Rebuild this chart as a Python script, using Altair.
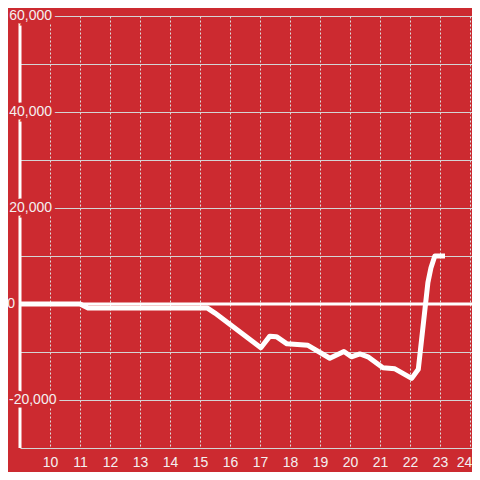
import altair as alt
import pandas as pd

# line series (hour of day -> value)
hours = [9, 11.0, 11.27, 15.25, 15.5, 17.03, 17.33, 17.55, 17.9, 18.6, 19.33, 19.8,
         20.05, 20.33, 20.6, 21.1, 21.5, 22.06, 22.28, 22.6, 22.7, 22.83, 23.17]
values = [0, 0, -850, -850, -1900, -9100, -6700, -6800, -8300, -8600, -11300, -9900,
          -11000, -10400, -11000, -13300, -13500, -15500, -13600, 4500, 7500, 10000, 10000]

# axes
pos_label_values = [20000, 40000, 60000]
pos_label_texts = ["20,000", "40,000", "60,000"]
zero_label_values = [0]
zero_label_texts = ["0"]
neg_label_values = [-20000]
neg_label_texts = ["-20,000"]
y_grid = [-30000, -20000, -10000, 10000, 20000, 30000, 40000, 50000, 60000]
x_ticks = list(range(10, 25))

BG = "#CC2A30"
FG = "#f4f0f0"
FONT = "Liberation Sans"

xscale = alt.Scale(domain=[9, 24.07], nice=False, zero=False)
yscale = alt.Scale(domain=[-30000, 60000], nice=False, zero=False)

xaxis = alt.Axis(values=x_ticks, grid=True, gridDash=[2, 2], gridColor="#dddddd", gridWidth=1,
                 domain=False, ticks=False, labelPadding=7, labelFontSize=14,
                 labelColor=FG, labelFont=FONT, title=None,
                 labelFlush=5, labelFlushOffset=2)
yaxis = alt.Axis(values=y_grid, grid=True, gridColor="#d4d4d4", gridWidth=1,
                 labels=False, domain=False, ticks=False, title=None)

line_df = pd.DataFrame({"h": hours, "v": values})

line = alt.Chart(line_df).mark_line(
    color="white", strokeWidth=5, strokeCap="butt", strokeJoin="round"
).encode(
    x=alt.X("h:Q", scale=xscale, axis=xaxis),
    y=alt.Y("v:Q", scale=yscale, axis=yaxis),
)

zero_rule = alt.Chart(pd.DataFrame({"v": [0]})).mark_rule(
    color="white", strokeWidth=3
).encode(y=alt.Y("v:Q", scale=yscale, axis=yaxis))

axis_rule = alt.Chart(pd.DataFrame({"h": [9]})).mark_rule(
    color="white", strokeWidth=3
).encode(x=alt.X("h:Q", scale=xscale, axis=xaxis))


def labels(vals, texts, xpos, align, mask):
    df = pd.DataFrame({"v": vals, "t": texts})
    kw = dict(align=align, baseline="middle", fontSize=14, font=FONT)
    if mask:
        m = alt.Chart(df).mark_text(fill=BG, stroke=BG, strokeWidth=7, **kw)
    else:
        m = alt.Chart(df).mark_text(fill=FG, **kw)
    return m.encode(
        x=alt.value(xpos),
        y=alt.Y("v:Q", scale=yscale, axis=yaxis),
        text="t:N",
    )


groups = [
    (pos_label_values, pos_label_texts, 32, "right"),
    (zero_label_values, zero_label_texts, -5, "right"),
    (neg_label_values, neg_label_texts, -11, "left"),
]
masks = [labels(v, t, x, a, True) for v, t, x, a in groups]
texts = [labels(v, t, x, a, False) for v, t, x, a in groups]

chart = alt.layer(
    zero_rule, axis_rule, line, *masks, *texts
).properties(
    width=452, height=432, background=BG,
    padding={"left": 12, "top": 8, "right": 0, "bottom": 24},
    autosize=alt.AutoSizeParams(type="none"),
).configure_view(stroke=None)

chart.save("out.html", embed_options={"renderer": "svg", "actions": False})
